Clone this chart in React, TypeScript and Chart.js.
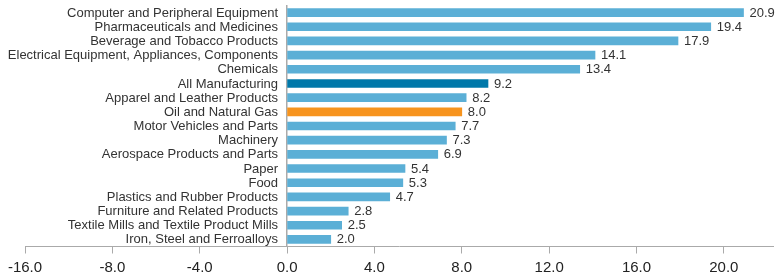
import React, { useEffect, useRef } from "react";
import { Chart, registerables } from "chart.js";

Chart.register(...registerables);

const categories: string[] = [
  "Computer and Peripheral Equipment",
  "Pharmaceuticals and Medicines",
  "Beverage and Tobacco Products",
  "Electrical Equipment, Appliances, Components",
  "Chemicals",
  "All Manufacturing",
  "Apparel and Leather Products",
  "Oil and Natural Gas",
  "Motor Vehicles and Parts",
  "Machinery",
  "Aerospace Products and Parts",
  "Paper",
  "Food",
  "Plastics and Rubber Products",
  "Furniture and Related Products",
  "Textile Mills and Textile Product Mills",
  "Iron, Steel and Ferroalloys",
];

const values: number[] = [20.9, 19.4, 17.9, 14.1, 13.4, 9.2, 8.2, 8.0, 7.7, 7.3, 6.9, 5.4, 5.3, 4.7, 2.8, 2.5, 2.0];

const xTickValues: number[] = [-12, -8, -4, 0, 4, 8, 12, 16, 20];
const xTickLabels: string[] = ["-16.0", "-8.0", "-4.0", "0.0", "4.0", "8.0", "12.0", "16.0", "20.0"];

const highlightDark = "All Manufacturing";
const highlightOrange = "Oil and Natural Gas";

const COLOR_BASE = "#5BAFD6";
const COLOR_DARK = "#0078A9";
const COLOR_ORANGE = "#F7941E";
const FONT = "'Liberation Sans', Arial, Helvetica, sans-serif";

const labelPlugin = {
  id: "barLabels",
  afterDatasetsDraw(chart: any) {
    const ctx = chart.ctx;
    const meta = chart.getDatasetMeta(0);
    const zeroX = chart.scales.x.getPixelForValue(0);
    ctx.save();
    ctx.font = `13px ${FONT}`;
    ctx.fillStyle = "#333333";
    ctx.textBaseline = "middle";
    meta.data.forEach((bar: any, i: number) => {
      ctx.textAlign = "left";
      ctx.fillText(values[i].toFixed(1), bar.x + 6, bar.y + 0.5);
      ctx.textAlign = "right";
      ctx.fillText(categories[i], zeroX - 9, bar.y + 0.5);
    });
    ctx.restore();
  },
};

export default function App() {
  const canvasRef = useRef<HTMLCanvasElement | null>(null);

  useEffect(() => {
    if (!canvasRef.current) return;
    const colors = categories.map((c) =>
      c === highlightDark ? COLOR_DARK : c === highlightOrange ? COLOR_ORANGE : COLOR_BASE
    );
    const chart = new Chart(canvasRef.current, {
      type: "bar",
      data: {
        labels: categories,
        datasets: [
          {
            data: values,
            backgroundColor: colors,
            borderWidth: 0,
            barThickness: 8,
          },
        ],
      },
      plugins: [labelPlugin],
      options: {
        indexAxis: "y",
        animation: false,
        responsive: true,
        maintainAspectRatio: false,
        layout: { padding: { left: 25, right: 4, top: 5.5, bottom: -6.5 } },
        plugins: {
          legend: { display: false },
          tooltip: { enabled: false },
        },
        scales: {
          x: {
            type: "linear",
            min: -12,
            max: 22.25,
            afterBuildTicks: (scale: any) => {
              scale.ticks = xTickValues.map((v) => ({ value: v }));
            },
            grid: {
              display: true,
              drawOnChartArea: false,
              drawTicks: true,
              tickLength: 7,
              color: "#aaaaaa",
            },
            border: { display: true, color: "#aaaaaa", width: 1 },
            ticks: {
              color: "#222222",
              font: { family: FONT, size: 15 },
              padding: 5.5,
              maxRotation: 0,
              autoSkip: false,
              callback: (_v: any, i: number) => xTickLabels[i],
            },
          },
          y: {
            type: "category",
            position: { x: 0 } as any,
            grid: { display: false },
            border: { display: true, color: "#aaaaaa", width: 1.5 },
            ticks: {
              color: "rgba(0,0,0,0)",
              font: { family: FONT, size: 4 },
              autoSkip: false,
              padding: 0,
            },
          },
        },
      } as any,
    });
    return () => chart.destroy();
  }, []);

  return (
    <div style={{ position: "absolute", left: 0, top: 0, width: 777, height: 276 }}>
      <canvas ref={canvasRef} />
    </div>
  );
}
